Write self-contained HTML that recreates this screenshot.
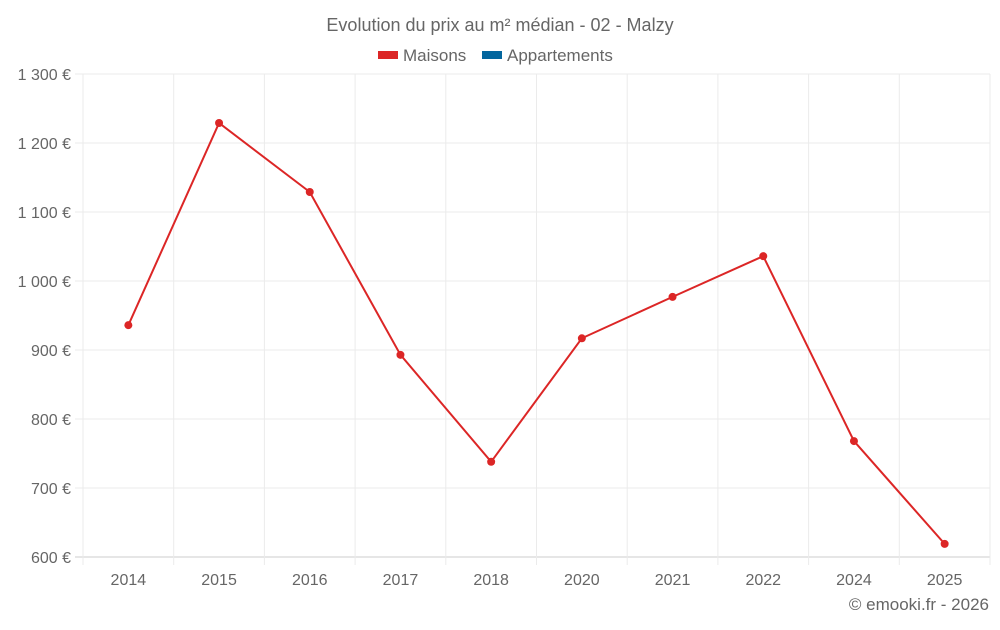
<!DOCTYPE html>
<html><head><meta charset="utf-8"><style>
body{margin:0;background:#fff;font-family:"Liberation Sans",sans-serif}
svg text{font-family:"Liberation Sans",sans-serif;fill:#666}
</style></head><body>
<svg id="c" width="1000" height="625">
<text x="500" y="31" text-anchor="middle" font-size="18">Evolution du prix au m² médian - 02 - Malzy</text>
<g>
<g><rect x="378" y="51" width="20" height="8" fill="#dc2626"/><text x="403" y="61" font-size="17">Maisons</text></g>
<g><rect x="482" y="51" width="20" height="8" fill="#03669e"/><text x="507" y="61" font-size="17">Appartements</text></g>
</g>
<g id="grid"></g><g id="axes"></g><g id="series"></g>
<text x="989" y="610" text-anchor="end" font-size="17">© emooki.fr - 2026</text>
</svg>
<script>
const categories=["2014","2015","2016","2017","2018","2020","2021","2022","2024","2025"];
const maisons=[936,1229,1129,893,738,917,977,1036,768,619];
const yTicks=[600,700,800,900,1000,1100,1200,1300];
const NS="http://www.w3.org/2000/svg";
const L=83,R=990,T=74,B=557,yMin=600,yMax=1300;
const bw=(R-L)/categories.length;
const x=i=>L+bw*(i+0.5);
const y=v=>B-(v-yMin)/(yMax-yMin)*(B-T);
function mk(t,a,p){const e=document.createElementNS(NS,t);for(const k in a)e.setAttribute(k,a[k]);p.appendChild(e);return e;}
const grid=document.getElementById('grid'),axes=document.getElementById('axes'),ser=document.getElementById('series');
yTicks.forEach(v=>{
 const l=mk('line',{x1:L-8,x2:R,y1:y(v),y2:y(v),stroke:v===yMin?'#ccc':'#ebebeb'},grid);
 
 
 const t=mk('text',{x:71,y:y(v)+6,'text-anchor':'end','font-size':'16'},axes);
 t.textContent=v.toLocaleString('fr-FR').replace(/\s/g,' ')+' €';
 
 
});
for(let i=0;i<=categories.length;i++){
 const gx=L+bw*i;
 const l=mk('line',{x1:gx,x2:gx,y1:T,y2:B+8,stroke:'#ebebeb'},grid);
 
 
}
categories.forEach((c,i)=>{
 const t=mk('text',{x:x(i),y:585,'text-anchor':'middle','font-size':'16'},axes);
 t.textContent=c;
 
 
});
const p=mk('polyline',{points:maisons.map((v,i)=>x(i)+','+y(v)).join(' '),fill:'none',stroke:'#dc2626','stroke-width':2},ser);


maisons.forEach((v,i)=>{
 const c=mk('circle',{cx:x(i),cy:y(v),r:4,fill:'#dc2626'},ser);
 
 
});
</script>
</body></html>
